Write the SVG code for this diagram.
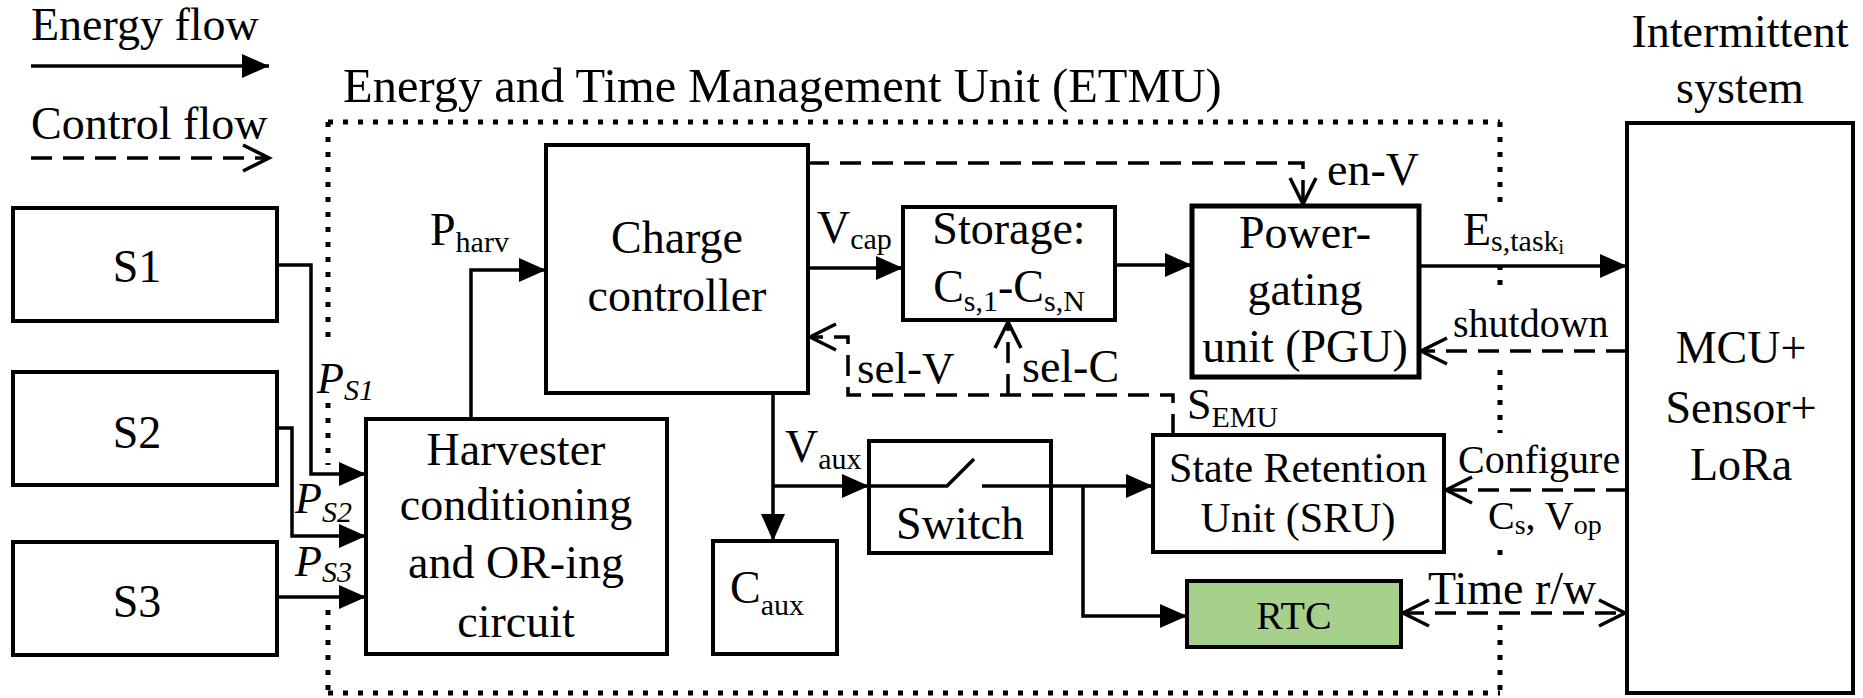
<svg xmlns="http://www.w3.org/2000/svg" width="1863" height="698" viewBox="0 0 1863 698">
<style>
text{font-family:"Liberation Serif","Times New Roman",serif;fill:#000;font-size:46px}
.sub{font-size:30px}
.sm{font-size:40px}
.it{font-style:italic}
.box{fill:#fff;stroke:#000;stroke-width:4}
.e{fill:none;stroke:#000;stroke-width:3.5}
.c{fill:none;stroke:#000;stroke-width:3.5;stroke-dasharray:21 11}
.dot{fill:none;stroke:#000;stroke-width:5;stroke-dasharray:5 10}
.mid{text-anchor:middle}
</style>
<defs>
<marker id="ah" markerUnits="userSpaceOnUse" markerWidth="28" markerHeight="26" viewBox="0 0 28 26" refX="27" refY="13" orient="auto" overflow="visible"><path d="M0,1 L27,13 L0,25 z" fill="#000"/></marker>
<marker id="ch" markerUnits="userSpaceOnUse" markerWidth="30" markerHeight="30" viewBox="0 0 30 30" refX="27" refY="15" orient="auto-start-reverse" overflow="visible"><path d="M1,2 L27,15 L1,28" fill="none" stroke="#000" stroke-width="3.5" stroke-dasharray="none"/></marker>
</defs>
<rect width="1863" height="698" fill="#fff"/>

<g id="legend">
<text x="31" y="40">Energy flow</text>
<path class="e" d="M31,66 H269" marker-end="url(#ah)"/>
<text x="31" y="139">Control flow</text>
<path class="c" d="M31,158 H269" marker-end="url(#ch)"/>
</g>

<g id="etmu">
<text x="343" y="102" style="font-size:48.5px">Energy and Time Management Unit (ETMU)</text>
<path class="dot" d="M328,122 H1500"/>
<path class="dot" d="M328,693 H1500"/>
<path class="dot" d="M328,122 V345 M328,403 V465 M328,610 V693"/>
<path class="dot" d="M1500,122 V208 M1500,265 V285 M1500,370 V433 M1500,550 V556 M1500,625 V693"/>
</g>

<g id="s1"><rect class="box" x="13" y="208" width="264" height="113"/><text class="mid" x="137" y="282">S1</text></g>
<g id="s2"><rect class="box" x="13" y="372" width="264" height="113"/><text class="mid" x="137" y="448">S2</text></g>
<g id="s3"><rect class="box" x="13" y="542" width="264" height="113"/><text class="mid" x="137" y="617">S3</text></g>

<g id="harvester"><rect class="box" x="366" y="419" width="301" height="235"/>
<text class="mid" x="516" y="465">Harvester</text>
<text class="mid" x="516" y="520">conditioning</text>
<text class="mid" x="516" y="578">and OR-ing</text>
<text class="mid" x="516" y="637">circuit</text></g>

<g id="charge-controller"><rect class="box" x="546" y="145" width="262" height="248"/>
<text class="mid" x="677" y="253">Charge</text>
<text class="mid" x="677" y="311">controller</text></g>

<g id="storage"><rect class="box" x="903" y="207" width="212" height="113"/>
<text class="mid" x="1009" y="244">Storage:</text>
<text class="mid" x="1009" y="302">C<tspan class="sub" dy="9">s,1</tspan><tspan dy="-9">-C</tspan><tspan class="sub" dy="9">s,N</tspan></text></g>

<g id="pgu"><rect class="box" x="1192" y="206" width="227" height="171" style="stroke-width:5"/>
<text class="mid" x="1305" y="248">Power-</text>
<text class="mid" x="1305" y="305">gating</text>
<text class="mid" x="1305" y="362">unit (PGU)</text></g>

<g id="caux"><rect class="box" x="713" y="541" width="124" height="113"/>
<text x="730" y="603">C<tspan class="sub" dy="12">aux</tspan></text></g>

<g id="switch"><rect class="box" x="869" y="441" width="182" height="112"/>
<path class="e" d="M869,486 H947 L974,459"/>
<text class="mid" x="960" y="539">Switch</text></g>

<g id="sru"><rect class="box" x="1153" y="435" width="291" height="117"/>
<text class="mid" x="1298" y="482" style="font-size:42px">State Retention</text>
<text class="mid" x="1298" y="532" style="font-size:42px">Unit (SRU)</text></g>

<g id="rtc"><rect class="box" x="1187" y="581" width="214" height="66" style="fill:#a8d08d"/>
<text class="mid sm" x="1294" y="629">RTC</text></g>

<g id="mcu">
<text class="mid" x="1740" y="47">Intermittent</text>
<text class="mid" x="1740" y="103">system</text>
<rect class="box" x="1627" y="123" width="226" height="570"/>
<text class="mid" x="1741" y="363">MCU+</text>
<text class="mid" x="1741" y="423">Sensor+</text>
<text class="mid" x="1741" y="480">LoRa</text></g>

<g id="connectors">
<path class="e" d="M277,265 H311 V474 H366" marker-end="url(#ah)"/>
<path class="e" d="M277,428 H292 V536 H366" marker-end="url(#ah)"/>
<path class="e" d="M277,597 H366" marker-end="url(#ah)"/>
<path class="e" d="M471,419 V270 H546" marker-end="url(#ah)"/>
<path class="e" d="M808,268 H903" marker-end="url(#ah)"/>
<path class="e" d="M1115,265 H1192" marker-end="url(#ah)"/>
<path class="e" d="M1419,266 H1627" marker-end="url(#ah)"/>
<path class="e" d="M773,393 V541" marker-end="url(#ah)"/>
<path class="e" d="M773,486 H869" marker-end="url(#ah)"/>
<path class="e" d="M982,486 H1153" marker-end="url(#ah)"/>
<path class="e" d="M1083,486 V616 H1187" marker-end="url(#ah)"/>
<path class="c" d="M808,163 H1303 V204" marker-end="url(#ch)"/>
<path class="c" d="M1173,435 V395 H848 V337 H810" marker-end="url(#ch)"/>
<path class="c" d="M1008,395 V322" marker-end="url(#ch)"/>
<path class="c" d="M1627,351 H1421" marker-end="url(#ch)"/>
<path class="c" d="M1627,490 H1446" marker-end="url(#ch)"/>
<path class="c" d="M1403,613 H1625" marker-start="url(#ch)" marker-end="url(#ch)"/>
</g>

<g id="labels">
<text class="it" x="317" y="393" style="font-size:44px">P<tspan class="sub" dy="7">S1</tspan></text>
<text class="it" x="295" y="513" style="font-size:44px">P<tspan class="sub" dy="9">S2</tspan></text>
<text class="it" x="295" y="576" style="font-size:44px">P<tspan class="sub" dy="6">S3</tspan></text>
<text x="430" y="245">P<tspan class="sub" dy="7">harv</tspan></text>
<text x="817" y="243">V<tspan class="sub" dy="6">cap</tspan></text>
<text x="785" y="462">V<tspan class="sub" dy="7">aux</tspan></text>
<text x="1327" y="185">en-V</text>
<text x="857" y="383" style="font-size:45px">sel-V</text>
<text x="1022" y="382">sel-C</text>
<text x="1187" y="419" style="font-size:44px">S<tspan class="sub" dy="8">EMU</tspan></text>
<text x="1463" y="245">E<tspan class="sub" dy="6">s,task</tspan><tspan dy="3" style="font-size:20px">i</tspan></text>
<text class="sm" x="1453" y="337">shutdown</text>
<text class="sm" x="1458" y="473">Configure</text>
<text class="sm" x="1488" y="529">C<tspan class="sub" dy="5" style="font-size:28px">s</tspan><tspan dy="-5">, V</tspan><tspan class="sub" dy="5" style="font-size:28px">op</tspan></text>
<text x="1428" y="604">Time r/w</text>
</g>
</svg>
